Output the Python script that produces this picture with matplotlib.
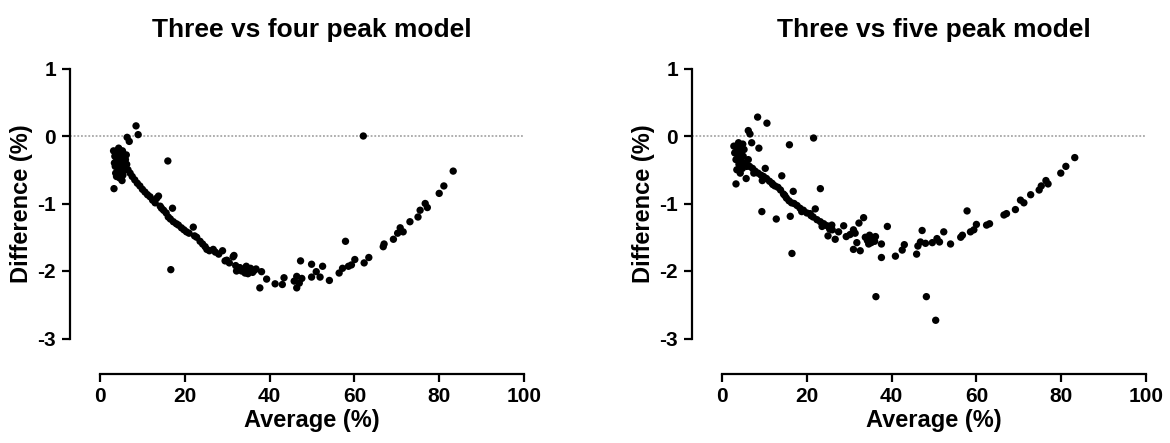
import matplotlib
matplotlib.use('Agg')
import matplotlib.pyplot as plt

plt.rcParams['font.family'] = ['Liberation Sans', 'DejaVu Sans']
plt.rcParams['font.weight'] = 'bold'
plt.rcParams['axes.unicode_minus'] = False

# three vs four peak model: (average %, difference %)
four_x = [3.2, 3.5, 3.8, 4.0, 4.2, 3.6, 4.5, 4.8, 5.0, 5.3, 5.5, 4.3, 4.7, 5.1, 5.6,
          6.0, 6.2, 3.9, 4.6, 5.2, 3.3, 6.4, 6.9, 8.5, 9.0, 16.0, 4.4, 5.8, 6.3,
          3.4, 4.1, 4.9, 5.4, 3.7,
          6.6, 7.1, 7.6, 8.2, 8.8, 9.4, 10.0, 10.6, 11.2, 11.8, 12.4, 13.0, 13.4, 13.8,
          14.2, 14.5, 15.0, 15.6, 16.1, 16.6, 17.1, 17.3, 18.0, 18.5, 19.2, 19.8, 20.4,
          21.0, 22.0, 22.3, 22.8, 23.6, 24.2, 24.8, 25.2, 25.8, 26.7, 27.2, 16.7,
          28.9, 29.9, 31.4, 31.6, 29.5, 32.2, 32.0, 33.0, 33.8, 34.5, 35.0, 35.5, 36.0,
          36.8, 34.2, 38.1, 39.3, 37.7, 41.3, 43.0, 43.4, 46.4, 46.4, 47.6, 47.3, 45.8,
          47.0, 30.5, 33.4, 34.9, 36.4, 28.0,
          49.9, 51.0, 51.9, 49.9, 52.5, 54.1, 56.4, 57.2, 57.9, 58.6, 59.3, 60.1,
          62.3, 63.4, 62.1, 66.8, 67.0, 69.2, 70.2, 70.8, 71.5, 73.1, 75.0, 75.5, 76.7,
          77.2, 80.0, 81.1, 83.3]
four_y = [-0.22, -0.30, -0.25, -0.35, -0.42, -0.45, -0.20, -0.28, -0.38, -0.22, -0.30,
          -0.52, -0.48, -0.55, -0.45, -0.35, -0.28, -0.60, -0.62, -0.66, -0.78, -0.02,
          -0.08, 0.15, 0.02, -0.37, -0.18, -0.50, -0.42,
          -0.40, -0.32, -0.44, -0.58, -0.55,
          -0.50, -0.55, -0.60, -0.65, -0.70, -0.74, -0.79, -0.83, -0.87, -0.90, -0.95,
          -0.99, -0.92, -0.89, -1.04, -1.07, -1.10, -1.14, -1.20, -1.23, -1.07, -1.27,
          -1.30, -1.32, -1.36, -1.39, -1.42, -1.44, -1.35, -1.48, -1.50, -1.56, -1.60,
          -1.64, -1.68, -1.70, -1.68, -1.72, -1.98,
          -1.70, -1.84, -1.79, -1.77, -1.85, -2.00, -1.92, -1.95, -1.98, -1.93, -2.00,
          -1.96, -2.02, -1.97, -2.03, -2.01, -2.12, -2.25, -2.19, -2.20, -2.10, -2.25,
          -2.08, -2.11, -1.85, -2.15, -2.18, -1.88, -2.00, -2.04, -1.99, -1.75,
          -1.90, -2.01, -2.09, -2.09, -1.93, -2.14,
          -2.03, -1.96, -1.56, -1.93, -1.91, -1.83, -1.88, -1.80, 0.00, -1.64, -1.60,
          -1.53, -1.44, -1.36, -1.42, -1.27, -1.20, -1.10, -1.00, -1.06, -0.85, -0.74,
          -0.52]

# three vs five peak model
five_x = [2.8, 3.0, 3.3, 3.6, 3.8, 4.0, 4.2, 4.4, 4.6, 4.8, 5.0, 5.2, 5.5, 3.5, 4.3,
          5.8, 6.2, 3.3, 5.7, 8.4, 10.6, 6.2, 6.6, 21.6, 7.0, 15.9, 8.7, 9.4, 12.8, 16.1,
          16.5, 23.2, 14.1, 10.2, 16.8, 3.9, 4.9,
          6.5, 7.2, 7.8, 8.5, 9.2, 9.8, 10.5, 11.2, 11.8, 12.5, 13.2, 13.8, 14.5, 15.2,
          15.8, 16.4, 17.0, 17.7, 18.4, 19.2, 20.0, 20.8, 21.5, 22.0, 22.4, 23.2, 24.0,
          24.8, 25.0, 25.9, 26.0, 26.7, 28.7, 29.3, 31.0, 31.4, 32.3, 33.4, 31.0, 32.6,
          31.8, 33.8, 34.3, 34.8, 35.2, 35.6, 36.0, 36.2, 34.6, 37.6, 39.0, 37.6, 36.3,
          18.8, 21.0, 23.6, 25.4, 27.5, 30.2, 7.5, 9.5, 12.0, 14.8,
          40.9, 42.5, 43.0, 45.9, 46.2, 46.8, 47.2, 48.0, 48.2, 50.4, 49.6, 50.7, 51.3,
          52.3, 53.9, 56.3, 56.7, 57.8, 58.6, 59.4, 60.0, 62.4, 63.1, 66.5, 67.1, 69.2,
          70.4, 71.2, 72.8, 74.8, 75.3, 76.4, 76.9, 79.9, 81.1, 83.2]
five_y = [-0.15, -0.25, -0.35, -0.20, -0.30, -0.42, -0.15, -0.25, -0.38, -0.48, -0.30,
          -0.20, -0.40, -0.50, -0.55, -0.45, -0.35, -0.71, -0.63, 0.28, 0.19, 0.08, 0.03,
          -0.03, -0.10, -0.13, -0.18, -1.12, -1.23, -1.19, -1.74, -0.78, -0.59, -0.48,
          -0.82, -0.10, -0.12,
          -0.45, -0.48, -0.52, -0.55, -0.58, -0.60, -0.63, -0.67, -0.70, -0.74, -0.76,
          -0.80, -0.86, -0.92, -0.96, -0.99, -1.00, -1.03, -1.07, -1.10, -1.14, -1.15,
          -1.20, -1.08, -1.24, -1.27, -1.30, -1.33, -1.48, -1.32, -1.39, -1.53, -1.33,
          -1.49, -1.39, -1.44, -1.29, -1.21, -1.68, -1.70, -1.58, -1.50, -1.55, -1.47,
          -1.58, -1.52, -1.56, -1.49, -1.60, -1.60, -1.34, -1.80, -2.38,
          -1.12, -1.18, -1.34, -1.38, -1.42, -1.46, -0.55, -0.66, -0.72, -0.88,
          -1.78, -1.69,
          -1.61, -1.75, -1.63, -1.57, -1.40, -1.59, -2.38, -2.73, -1.58, -1.52, -1.57,
          -1.42, -1.60, -1.50, -1.47, -1.11, -1.42, -1.39, -1.31, -1.32, -1.30, -1.17,
          -1.15, -1.09, -0.95, -0.99, -0.87, -0.80, -0.74, -0.66, -0.71, -0.55, -0.45,
          -0.32]

titles = ['Three vs four peak model', 'Three vs five peak model']
x_ticks = [0, 20, 40, 60, 80, 100]
y_ticks = [1, 0, -1, -2, -3]

W, H = 1170, 443
fig = plt.figure(figsize=(W / 100, H / 100), dpi=100)

panels = [(four_x, four_y, 100), (five_x, five_y, 722)]
ax_w = 424
left_off = 30      # px between y spine and x = 0
bottom_off = 35    # px between x spine and y = -3

for (xs, ys, left_px), title in zip(panels, titles):
    ax = fig.add_axes([left_px / W, (H - 338.5) / H, ax_w / W, 270 / H])
    ax.scatter(xs, ys, s=28, color='black', edgecolors='none', zorder=3, clip_on=False)
    ax.axhline(0, xmin=-left_off / ax_w, xmax=1, color='#999999', lw=1.1,
               ls=(0, (1.2, 1.2)), clip_on=False, zorder=1)
    ax.set_xlim(0, 100)
    ax.set_ylim(-3, 1)
    ax.set_xticks(x_ticks)
    ax.set_yticks(y_ticks)
    for s in ['top', 'right']:
        ax.spines[s].set_visible(False)
    ax.spines['left'].set_position(('outward', left_off * 0.72))
    ax.spines['bottom'].set_position(('outward', bottom_off * 0.72))
    for s in ['left', 'bottom']:
        ax.spines[s].set_linewidth(1.6)
    ax.tick_params(direction='out', length=6, width=1.6, labelsize=15, pad=4)
    for lab in ax.get_xticklabels() + ax.get_yticklabels():
        lab.set_fontweight('bold')
    ax.set_title(title, fontsize=19, fontweight='bold', pad=23)
    ax.set_xlabel('Average (%)', fontsize=17, fontweight='bold', labelpad=2)
    ax.set_ylabel('Difference (%)', fontsize=17, fontweight='bold', labelpad=3)

fig.savefig('out.png', dpi=100)
